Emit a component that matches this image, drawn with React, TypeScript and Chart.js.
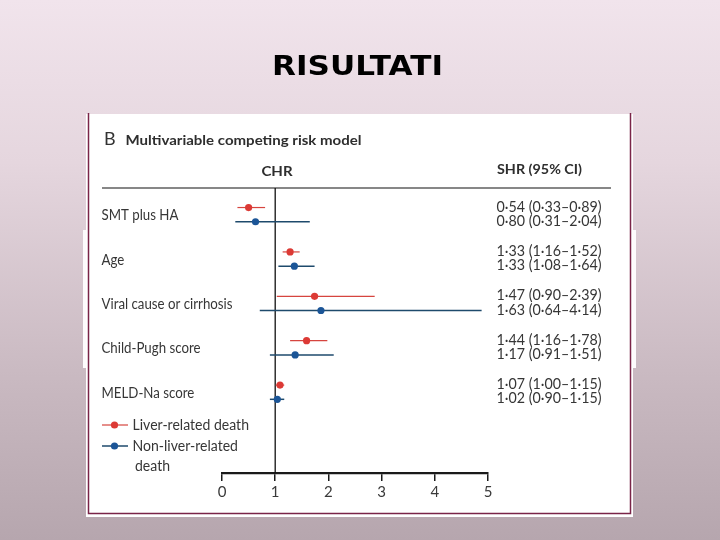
import React, { useEffect, useRef } from "react";
import { Chart, registerables } from "chart.js";

Chart.register(...registerables);

// ---- data ----
const categories = ["SMT plus HA", "Age", "Viral cause or cirrhosis", "Child-Pugh score", "MELD-Na score"];
const liverEst = [0.5, 1.28, 1.74, 1.59, 1.09];
const liverLow = [0.29, 1.14, 1.03, 1.28, 1.01];
const liverHigh = [0.81, 1.46, 2.87, 1.98, 1.17];
const nonLiverEst = [0.63, 1.36, 1.86, 1.375, 1.04];
const nonLiverLow = [0.25, 1.06, 0.71, 0.9, 0.9];
const nonLiverHigh = [1.65, 1.74, 4.88, 2.1, 1.17];
const liverShr = ["0·54 (0·33–0·89)", "1·33 (1·16–1·52)", "1·47 (0·90–2·39)", "1·44 (1·16–1·78)", "1·07 (1·00–1·15)"];
const nonLiverShr = ["0·80 (0·31–2·04)", "1·33 (1·08–1·64)", "1·63 (0·64–4·14)", "1·17 (0·91–1·51)", "1·02 (0·90–1·15)"];
const xTicks = [0, 1, 2, 3, 4, 5];
const seriesNames = ["Liver-related death", "Non-liver-related death"];
const legendLines = [["Liver-related death"], ["Non-liver-related", "death"]];
const slideTitle = "RISULTATI";
const panelLetter = "B";
const panelTitle = "Multivariable competing risk model";
const leftHeader = "CHR";
const rightHeader = "SHR (95% CI)";

const FAMILY = 'Lato, "Open Sans", "DejaVu Sans", sans-serif';
const RED = "#dc3a35";
const RED_LINE = "#d6453f";
const BLUE = "#1b5597";
const BLUE_LINE = "#1e4a6c";
const TEXT = "#363636";
const ROW_OFFSET = 0.16;

function fitScale(ctx: CanvasRenderingContext2D, font: string, ref: string, target: number) {
  ctx.save();
  ctx.font = font;
  const w = ctx.measureText(ref).width;
  ctx.restore();
  return w > 0 ? target / w : 1;
}

function drawText(
  ctx: CanvasRenderingContext2D,
  text: string,
  x: number,
  y: number,
  font: string,
  color: string,
  sx: number,
  align: CanvasTextAlign = "left"
) {
  ctx.save();
  ctx.font = font;
  ctx.fillStyle = color;
  ctx.textAlign = align;
  ctx.textBaseline = "alphabetic";
  ctx.translate(x, y);
  ctx.scale(sx, 1);
  ctx.fillText(text, 0, 0);
  ctx.restore();
}

const slidePlugin = {
  id: "slideDecor",
  beforeDraw(chart: any) {
    const ctx: CanvasRenderingContext2D = chart.ctx;
    const W = chart.width;
    const H = chart.height;
    ctx.save();
    const g = ctx.createLinearGradient(0, 0, 0, H);
    g.addColorStop(0, "#f1e4ec");
    g.addColorStop(0.3, "#e5d6de");
    g.addColorStop(0.7, "#c9b9c1");
    g.addColorStop(1, "#b6a6ae");
    ctx.fillStyle = g;
    ctx.fillRect(0, 0, W, H);
    // underlying white panel
    ctx.fillStyle = "#fdfbfc";
    ctx.fillRect(83, 230, 553, 138);
    // figure image
    ctx.fillStyle = "#ffffff";
    ctx.fillRect(86, 114, 547, 403);
    ctx.strokeStyle = "#7a2448";
    ctx.lineWidth = 1.5;
    ctx.beginPath();
    ctx.moveTo(88.5, 113);
    ctx.lineTo(88.5, 513.5);
    ctx.lineTo(630.5, 513.5);
    ctx.lineTo(630.5, 113);
    ctx.stroke();
    ctx.restore();
  },
  beforeDatasetsDraw(chart: any) {
    const ctx: CanvasRenderingContext2D = chart.ctx;
    const xs = chart.scales.x;
    const area = chart.chartArea;
    ctx.save();
    // header separator
    ctx.strokeStyle = "#111";
    ctx.lineWidth = 1.2;
    ctx.beginPath();
    ctx.moveTo(102, area.top);
    ctx.lineTo(611, area.top);
    ctx.stroke();
    // reference line at 1
    const x1 = xs.getPixelForValue(1);
    ctx.lineWidth = 1.3;
    ctx.beginPath();
    ctx.moveTo(x1, area.top);
    ctx.lineTo(x1, area.bottom);
    ctx.stroke();
    // CI bars
    chart.data.datasets.forEach((ds: any, di: number) => {
      const ys = chart.scales.y;
      ctx.strokeStyle = ds.barColor;
      ctx.lineWidth = ds.barWidth;
      ds.data.forEach((p: any) => {
        const y = ys.getPixelForValue(p.y);
        ctx.beginPath();
        ctx.moveTo(xs.getPixelForValue(p.lo), y);
        ctx.lineTo(xs.getPixelForValue(p.hi), y);
        ctx.stroke();
      });
    });
    ctx.restore();
  },
  afterDraw(chart: any) {
    const ctx: CanvasRenderingContext2D = chart.ctx;
    const ys = chart.scales.y;

    // slide title
    const titleFont = `bold 27px "DejaVu Sans", ${FAMILY}`;
    drawText(ctx, slideTitle, 357.5, 75, titleFont, "#000", fitScale(ctx, titleFont, slideTitle, 171), "center");

    // panel header
    drawText(ctx, panelLetter, 104, 145, `18px ${FAMILY}`, "#333", 1);
    const hFont = `bold 14px ${FAMILY}`;
    drawText(ctx, panelTitle, 125.5, 145, hFont, "#2e2e2e", fitScale(ctx, hFont, panelTitle, 236));
    const hs = fitScale(ctx, hFont, panelTitle, 236);
    drawText(ctx, leftHeader, 277, 176, hFont, "#2e2e2e", hs, "center");
    drawText(ctx, rightHeader, 497, 174, hFont, "#2e2e2e", fitScale(ctx, hFont, rightHeader, 85));

    // row labels
    const rFont = `14.5px ${FAMILY}`;
    const rs = fitScale(ctx, rFont, categories[2], 131);
    categories.forEach((c, i) => {
      drawText(ctx, c, 101.5, ys.getPixelForValue(i) + 5.5, rFont, TEXT, rs);
    });

    // SHR column
    const cFont = `15px ${FAMILY}`;
    const cs = fitScale(ctx, cFont, liverShr[0], 105);
    liverShr.forEach((t, i) => {
      drawText(ctx, t, 496.5, ys.getPixelForValue(i - ROW_OFFSET) + 4, cFont, TEXT, cs);
    });
    nonLiverShr.forEach((t, i) => {
      drawText(ctx, t, 496.5, ys.getPixelForValue(i + ROW_OFFSET) + 4, cFont, TEXT, cs);
    });

    // legend
    const lFont = `14.5px ${FAMILY}`;
    const ls = fitScale(ctx, lFont, legendLines[0][0], 116.5);
    const legendY = [425, 446];
    chart.data.datasets.forEach((ds: any, di: number) => {
      const y = legendY[di];
      ctx.save();
      ctx.strokeStyle = ds.barColor;
      ctx.lineWidth = ds.barWidth;
      ctx.beginPath();
      ctx.moveTo(102, y);
      ctx.lineTo(128, y);
      ctx.stroke();
      ctx.fillStyle = ds.pointBackgroundColor;
      ctx.beginPath();
      ctx.arc(114.5, y, 3.6, 0, Math.PI * 2);
      ctx.fill();
      ctx.restore();
      legendLines[di].forEach((line, li) => {
        drawText(ctx, line, li === 0 ? 132.5 : 135, y + 5 + li * 19.5, lFont, TEXT, ls);
      });
    });
  },
};

export default function App() {
  const ref = useRef<HTMLCanvasElement | null>(null);

  useEffect(() => {
    document.body.style.margin = "0";
    const canvas = ref.current;
    if (!canvas) return;
    const mk = (est: number[], lo: number[], hi: number[], off: number) =>
      est.map((v, i) => ({ x: v, y: i + off, lo: lo[i], hi: hi[i] }));

    const chart = new Chart(canvas, {
      type: "scatter",
      data: {
        datasets: [
          {
            label: seriesNames[0],
            data: mk(liverEst, liverLow, liverHigh, -ROW_OFFSET),
            pointBackgroundColor: RED,
            pointBorderWidth: 0,
            pointRadius: 3.6,
            pointHoverRadius: 3.6,
            barColor: RED_LINE,
            barWidth: 1.2,
          } as any,
          {
            label: seriesNames[1],
            data: mk(nonLiverEst, nonLiverLow, nonLiverHigh, ROW_OFFSET),
            pointBackgroundColor: BLUE,
            pointBorderWidth: 0,
            pointRadius: 3.6,
            pointHoverRadius: 3.6,
            barColor: BLUE_LINE,
            barWidth: 1.5,
          } as any,
        ],
      },
      options: {
        animation: false,
        responsive: false,
        events: [],
        layout: { padding: { left: 222, right: 232, top: 188, bottom: 0 } },
        plugins: { legend: { display: false }, tooltip: { enabled: false }, title: { display: false } },
        scales: {
          x: {
            type: "linear",
            min: 0,
            max: 5,
            afterFit: (s: any) => {
              s.height = 67;
            },
            afterBuildTicks: (s: any) => {
              s.ticks = xTicks.map((v) => ({ value: v }));
            },
            border: { display: true, color: "#1a1a1a", width: 2.2 },
            grid: {
              display: true,
              drawOnChartArea: false,
              drawTicks: true,
              tickLength: 8,
              color: "#1a1a1a",
              lineWidth: 1.5,
            },
            ticks: {
              padding: 2,
              color: "#3a3a3a",
              font: { family: FAMILY, size: 15 },
              maxRotation: 0,
              autoSkip: false,
            },
          },
          y: {
            type: "linear",
            display: false,
            min: -0.6,
            max: 5.82,
            reverse: true,
          },
        },
      },
      plugins: [slidePlugin],
    });
    return () => chart.destroy();
  }, []);

  return (
    <div style={{ position: "fixed", left: 0, top: 0, width: 720, height: 540 }}>
      <canvas ref={ref} width={720} height={540} style={{ display: "block", width: 720, height: 540 }} />
    </div>
  );
}
